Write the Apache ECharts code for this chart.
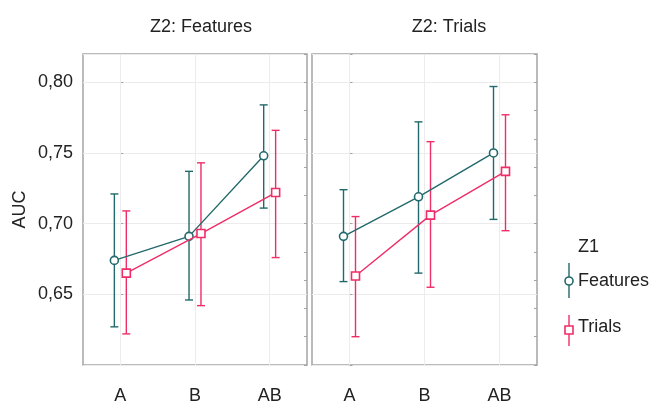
<!DOCTYPE html>
<html>
<head>
<meta charset="utf-8">
<script src="https://cdn.jsdelivr.net/npm/echarts@6/dist/echarts.min.js"></script>
<style>
html,body{margin:0;padding:0;background:#fff;}
#chart{width:659px;height:405px;}
</style>
</head>
<body>
<div id="chart"></div>
<script>
// ---- data ----
var categories = ['A', 'B', 'AB'];
var panelTitles = ['Z2: Features', 'Z2: Trials'];
var seriesNames = ['Features', 'Trials'];
var yTicks = [0.65, 0.70, 0.75, 0.80];

// panel "Z2: Features"
var pFeat_featMean = [0.674, 0.691, 0.748];
var pFeat_featLow  = [0.627, 0.646, 0.711];
var pFeat_featHigh = [0.721, 0.737, 0.784];
var pFeat_trMean   = [0.665, 0.693, 0.722];
var pFeat_trLow    = [0.622, 0.642, 0.676];
var pFeat_trHigh   = [0.709, 0.743, 0.766];

// panel "Z2: Trials"
var pTr_featMean = [0.691, 0.719, 0.750];
var pTr_featLow  = [0.659, 0.665, 0.703];
var pTr_featHigh = [0.724, 0.772, 0.797];
var pTr_trMean   = [0.663, 0.706, 0.737];
var pTr_trLow    = [0.620, 0.655, 0.695];
var pTr_trHigh   = [0.705, 0.758, 0.777];

// ---- styling ----
var TEAL = '#22696c';
var PINK = '#ef2d67';
var FONT = 'Liberation Sans';
var TXT = '#222';
var FS = 18;
var OFF = 0.08;

var panels = [
  {mean: [pFeat_featMean, pFeat_trMean], low: [pFeat_featLow, pFeat_trLow], high: [pFeat_featHigh, pFeat_trHigh]},
  {mean: [pTr_featMean, pTr_trMean], low: [pTr_featLow, pTr_trLow], high: [pTr_featHigh, pTr_trHigh]}
];
var colors = [TEAL, PINK];
var symbols = ['circle', 'rect'];
var offsets = [-OFF, OFF];

var grids = [
  {left: 83, top: 54, width: 224, height: 315, show: true, borderColor: '#a4a4a4', borderWidth: 1.5, backgroundColor: '#fff'},
  {left: 312, top: 54, width: 225, height: 315, show: true, borderColor: '#a4a4a4', borderWidth: 1.5, backgroundColor: '#fff'}
];

var xAxes = [], yAxes = [], series = [];
panels.forEach(function (p, g) {
  xAxes.push({gridIndex: g, type: 'value', min: -0.5, max: 2.5, show: false});
  xAxes.push({gridIndex: g, type: 'category', data: categories, boundaryGap: true, position: 'bottom',
    axisLine: {show: false}, axisTick: {show: false}, splitLine: {show: false},
    axisLabel: {margin: 22, fontSize: FS, color: TXT, fontFamily: FONT}});
  yAxes.push({gridIndex: g, type: 'value', min: 0.6, max: 0.82, interval: 0.05, position: 'left',
    name: g === 0 ? 'AUC' : '', nameLocation: 'middle', nameGap: 54, nameRotate: 90,
    nameTextStyle: {fontSize: FS, color: TXT, fontFamily: FONT, padding: [0, 0, 0, 0]},
    axisLine: {show: false},
    axisTick: {show: true, inside: true, length: 3, lineStyle: {color: '#a4a4a4'}},
    splitLine: {show: true, lineStyle: {color: '#ececec', width: 1}},
    axisLabel: {show: g === 0, showMinLabel: false, showMaxLabel: false, margin: 10, fontSize: FS, color: TXT, fontFamily: FONT,
      formatter: function (v) { return v.toFixed(2).replace('.', ','); }}});
  yAxes.push({gridIndex: g, type: 'value', min: 0.6, max: 0.82, interval: 0.02, position: 'right',
    axisLine: {show: false}, axisLabel: {show: false}, splitLine: {show: false},
    axisTick: {show: true, inside: true, length: 3, lineStyle: {color: '#a4a4a4'}}});

  for (var s = 0; s < 2; s++) {
    (function (s) {
      var errData = categories.map(function (c, i) { return [i + offsets[s], p.low[s][i], p.high[s][i]]; });
      series.push({
        type: 'custom', xAxisIndex: 2 * g, yAxisIndex: 2 * g, z: 3 + s,
        data: errData, silent: true,
        renderItem: function (params, api) {
          var x = api.value(0);
          var top = api.coord([x, api.value(2)]);
          var bot = api.coord([x, api.value(1)]);
          var w = 4;
          var st = {stroke: colors[s], lineWidth: 1.4, fill: null};
          return {type: 'group', children: [
            {type: 'line', shape: {x1: top[0], y1: top[1], x2: bot[0], y2: bot[1]}, style: st},
            {type: 'line', shape: {x1: top[0] - w, y1: top[1], x2: top[0] + w, y2: top[1]}, style: st},
            {type: 'line', shape: {x1: bot[0] - w, y1: bot[1], x2: bot[0] + w, y2: bot[1]}, style: st}
          ]};
        }
      });
      var lineData = categories.map(function (c, i) { return [i + offsets[s], p.mean[s][i]]; });
      var ser = {
        type: 'line', name: seriesNames[s], xAxisIndex: 2 * g, yAxisIndex: 2 * g, z: 5 + s,
        data: lineData, symbol: symbols[s], symbolSize: 8, showSymbol: true,
        lineStyle: {color: colors[s], width: 1.4},
        itemStyle: {color: '#fff', borderColor: colors[s], borderWidth: 1.6},
        emphasis: {disabled: true}, animation: false
      };
      if (s === 0) {
        ser.markLine = {silent: true, symbol: 'none', label: {show: false}, animation: false,
          lineStyle: {color: '#ececec', width: 1, type: 'solid'},
          data: categories.map(function (c, i) { return {xAxis: i}; })};
      }
      series.push(ser);
    })(s);
  }
});

var titles = panelTitles.map(function (t, i) {
  return {text: t, left: i === 0 ? 196 : 444, top: 13, textAlign: 'center',
    textStyle: {fontSize: FS, fontWeight: 'normal', color: TXT, fontFamily: FONT}};
});

var legendGraphic = [
  {type: 'text', left: 578, top: 238, style: {text: 'Z1', fontSize: FS, fill: TXT, fontFamily: FONT}},
  {type: 'line', shape: {x1: 569, y1: 263, x2: 569, y2: 298}, style: {stroke: TEAL, lineWidth: 1.4}},
  {type: 'circle', shape: {cx: 569, cy: 281, r: 4}, style: {fill: '#fff', stroke: TEAL, lineWidth: 1.6}},
  {type: 'text', x: 578, y: 281, style: {text: seriesNames[0], fontSize: FS, fill: TXT, fontFamily: FONT, verticalAlign: 'middle'}},
  {type: 'line', shape: {x1: 569, y1: 315, x2: 569, y2: 346}, style: {stroke: PINK, lineWidth: 1.4}},
  {type: 'rect', shape: {x: 565, y: 326, width: 8, height: 8}, style: {fill: '#fff', stroke: PINK, lineWidth: 1.6}},
  {type: 'text', x: 578, y: 327, style: {text: seriesNames[1], fontSize: FS, fill: TXT, fontFamily: FONT, verticalAlign: 'middle'}}
];

var chart = echarts.init(document.getElementById('chart'), null, {renderer: 'canvas'});
chart.setOption({
  animation: false,
  backgroundColor: '#fff',
  title: titles,
  grid: grids,
  xAxis: xAxes,
  yAxis: yAxes,
  series: series,
  graphic: legendGraphic
});
</script>
</body>
</html>
